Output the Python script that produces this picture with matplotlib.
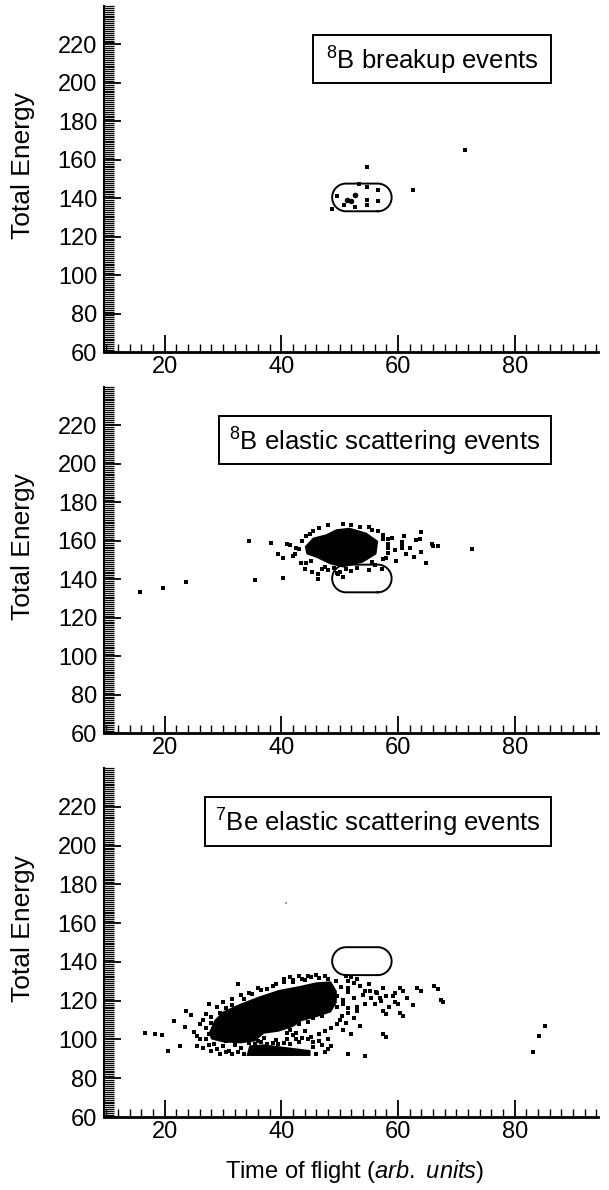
import matplotlib.pyplot as plt
import numpy as np
from matplotlib.ticker import MultipleLocator
from matplotlib.patches import Rectangle

plt.rcParams['font.family'] = ['Liberation Sans', 'DejaVu Sans']
plt.rcParams['mathtext.fontset'] = 'custom'
plt.rcParams['mathtext.rm'] = 'Liberation Sans'
plt.rcParams['mathtext.it'] = 'Liberation Sans:italic'

# Dados
titulos = [r'$^{8}$B breakup events',
           r'$^{8}$B elastic scattering events',
           r'$^{7}$Be elastic scattering events']
caixa_esq = [45.4, 29.3, 26.9]   # borda esquerda da caixa do título (tof)

# janela (gate) de energia x tempo de voo
gate_tof = [48.7, 58.9]
gate_energia = [133.2, 147.6]

# painel 1: 8B breakup
p1_tof = [54.7, 71.4, 62.6, 48.7, 49.5, 50.7, 52.6, 54.7, 54.7, 54.7, 56.6, 56.6, 53.3]
p1_energia = [156.3, 164.9, 144.2, 134.3, 141.2, 136.4, 135.2, 145.9, 139.2, 136.4, 144.2, 138.3, 147.6]
p1_duplo_tof = [51.3, 51.9, 52.6]
p1_duplo_energia = [139.3, 138.4, 141.9]

# painel 2: 8B elástico
p2_tof = [15.7, 19.7, 23.6, 34.5, 35.4, 38.3, 40.3, 40.3, 41.5, 44.3, 64.0, 61.0, 63.0, 65.8,
          64.8, 72.6, 64.0, 62.8, 46.2, 46.2, 45.3, 49.5, 42.3, 43.3, 66.0, 66.8, 63.7, 62.0,
          61.4, 60.6, 60.6, 60.6, 59.7, 58.3, 58.3, 58.3, 58.3, 57.2, 49.7, 50.6, 44.9, 45.1,
          44.3, 43.0, 42.5, 47.0, 48.0, 52.0, 53.5, 55.5, 57.5, 59.0, 59.4, 57.5, 56.0, 53.0,
          52.0, 55.0, 45.5, 46.5, 48.0, 50.5, 55.0, 56.5, 57.5, 58.0, 55.5, 43.5, 42.0, 41.0,
          47.5, 49.0, 50.0, 51.0, 39.5, 44.0]
p2_energia = [133.6, 135.5, 138.4, 159.8, 139.5, 158.6, 140.9, 150.8, 157.9, 162.4, 164.7, 162.4,
              160.2, 158.4, 148.7, 155.8, 154.4, 151.8, 142.6, 140.0, 144.0, 143.5, 153.0, 148.7,
              157.3, 157.3, 160.8, 156.4, 153.0, 159.5, 157.8, 156.0, 149.5, 160.8, 158.5, 156.2,
              153.9, 145.2, 142.6, 141.0, 163.4, 149.5, 148.7, 155.5, 156.5, 145.5, 144.8, 168.0,
              167.2, 165.5, 163.0, 161.5, 155.0, 150.5, 147.5, 146.0, 144.5, 145.0, 165.0, 166.5,
              168.0, 168.5, 167.0, 165.0, 161.0, 151.0, 149.0, 160.0, 152.0, 158.5, 146.5, 146.0,
              144.0, 145.5, 153.0, 145.5]
p2_nucleo_tof = [44.0, 45.4, 47.7, 49.4, 51.7, 54.6, 56.6, 56.3, 54.0, 50.6, 48.3, 46.0, 44.3]
p2_nucleo_energia = [157.0, 161.6, 163.4, 166.0, 166.8, 164.2, 159.9, 153.0, 148.7, 146.1, 147.8, 151.2, 153.0]

# painel 3: 7Be elástico
p3_tof = [16.6, 18.4, 19.6, 20.6, 21.6, 22.6, 23.4, 23.6, 24.5, 25.6, 25.6, 26.5, 27.5, 32.6,
          51.4, 54.4, 57.4, 57.4, 60.4, 60.4, 59.4, 63.3, 66.2, 67.3, 83.1, 84.1, 85.2, 56.4,
          57.4, 55.4, 52.9, 51.4, 54.4, 54.4, 53.0, 51.4, 50.4, 49.4, 50.3, 51.5, 52.5, 53.5,
          55.2, 56.3, 56.9, 58.0, 59.2, 60.9, 64.0, 66.9, 67.7, 60.0, 58.0, 60.9, 58.0, 49.5,
          50.5, 51.5, 49.0, 47.0, 45.5, 44.5, 43.0, 41.5, 42.5, 44.0, 45.0, 46.5, 47.0, 48.5,
          45.5, 43.0, 41.0, 39.0, 37.0, 36.0, 35.5, 27.0, 27.5, 27.0, 28.0, 28.0, 28.5, 29.0,
          30.0, 30.5, 31.0, 32.0, 33.0, 29.5, 30.5, 31.5, 33.5, 35.0, 36.5, 38.5, 40.5, 42.0,
          43.5, 45.0, 46.5, 48.0, 26.0, 25.0,
          30.5, 31.5, 32.5, 33.5, 31.0, 32.0, 33.5, 34.5, 35.5, 36.5, 37.5, 38.5, 39.5, 40.5,
          41.5, 42.5, 43.5, 44.5, 45.5, 46.5, 47.5, 48.5, 49.5, 48.0, 46.0, 47.5, 48.0, 36.5,
          35.0, 42.0, 41.0,
          29.0, 30.0, 31.5, 33.0, 34.5, 36.0, 37.5, 39.0, 40.5, 41.5, 43.0, 44.5, 46.0, 47.5,
          42.0, 44.0,
          26.5, 27.0, 26.0, 27.5, 28.0, 29.5,
          50.0, 51.0, 52.5, 50.5, 52.0, 53.5, 49.5, 50.5, 51.5, 52.5, 53.0, 54.0, 55.0, 56.0,
          57.0, 58.5, 59.5, 61.5, 62.5, 52.0, 51.0]
p3_energia = [103.3, 103.0, 102.5, 94.3, 109.4, 96.9, 106.5, 114.6, 112.5, 101.6, 96.7, 95.5,
              118.4, 128.5, 92.7, 91.5, 114.6, 102.8, 126.3, 113.6, 119.3, 126.8, 127.5, 120.5,
              93.4, 101.6, 106.8, 124.2, 126.3, 121.6, 131.1, 130.3, 125.0, 118.1, 114.6, 113.7,
              112.0, 130.0, 127.0, 124.5, 121.5, 127.5, 125.0, 124.3, 121.5, 122.6, 122.6, 124.9,
              125.0, 125.9, 119.1, 118.3, 113.0, 112.3, 101.2, 116.5, 118.5, 116.0, 121.0, 112.0,
              111.0, 109.0, 108.0, 105.0, 103.5, 104.5, 101.5, 99.0, 97.0, 96.5, 96.0, 98.5,
              100.0, 99.5, 101.0, 99.0, 97.5, 100.0, 103.0, 106.0, 108.5, 111.5, 97.5, 95.0,
              96.5, 99.0, 94.0, 97.0, 95.5, 113.5, 116.0, 118.0, 121.0, 123.5, 125.5, 127.5,
              129.5, 130.5, 131.0, 132.0, 131.5, 131.0, 108.0, 104.0,
              93.5, 92.5, 93.5, 92.5, 101.0, 100.0, 101.5, 98.0, 101.0, 98.5, 97.5, 98.0, 97.5,
              98.0, 97.5, 100.0, 101.0, 100.0, 98.5, 103.0, 104.5, 106.0, 108.0, 100.0, 92.5,
              93.5, 95.0, 104.0, 105.0, 102.5, 103.5,
              117.0, 119.5, 121.0, 123.0, 124.0, 126.5, 126.0, 128.5, 131.0, 132.0, 133.0, 132.5,
              133.5, 133.0, 129.5, 130.5,
              110.0, 113.0, 100.5, 97.0, 94.0, 92.5,
              110.0, 108.5, 111.0, 105.0, 103.0, 107.0, 122.5, 120.5, 126.5, 129.0, 117.0, 123.0,
              128.5, 118.5, 120.0, 117.0, 124.0, 121.5, 118.0, 132.0, 133.0]
p3_nucleo_tof = [27.5, 28.5, 30.0, 33.0, 36.0, 39.5, 43.0, 46.0, 48.5, 49.5, 49.5, 48.5, 46.0,
                 43.5, 42.0, 39.5, 37.0, 35.5, 33.0, 30.0, 28.0]
p3_nucleo_energia = [103.0, 110.0, 114.5, 118.5, 122.0, 125.5, 127.5, 129.5, 130.0, 125.0, 119.0,
                     114.0, 111.5, 109.5, 106.5, 104.0, 103.0, 99.0, 98.0, 98.5, 100.0]
p3_banda_tof = [34.0, 45.0, 45.0, 41.0, 37.0, 34.5]
p3_banda_energia = [91.5, 91.5, 94.5, 96.0, 97.5, 97.0]
p3_fraco_tof = [40.8]
p3_fraco_energia = [170.5]

xlim = (9.6, 94.3)
ylim = (60, 240)

fig = plt.figure(figsize=(6.09, 11.90), dpi=100)
posicoes = [[0.171, 0.7042, 0.811, 0.2908],
            [0.171, 0.3840, 0.811, 0.2908],
            [0.171, 0.0613, 0.811, 0.2933]]
axes = [fig.add_axes(p) for p in posicoes]


def desenha_gate(ax, pos):
    x0, x1 = gate_tof
    y0, y1 = gate_energia
    sx = pos[2] * 609 / (xlim[1] - xlim[0])
    sy = pos[3] * 1190 / (ylim[1] - ylim[0])
    ry = (y1 - y0) / 2
    rx = ry * sy / sx
    yc = (y0 + y1) / 2
    t = np.linspace(-np.pi / 2, np.pi / 2, 40)
    xs = np.concatenate([x1 - rx + rx * np.cos(t), x0 + rx - rx * np.cos(t), [x1 - rx]])
    ys = np.concatenate([yc + ry * np.sin(t), yc - ry * np.sin(t), [y0]])
    ax.plot(xs, ys, color='black', lw=1.4)


for i, ax in enumerate(axes):
    ax.set_xlim(*xlim)
    ax.set_ylim(*ylim)
    ax.spines['top'].set_visible(False)
    ax.spines['right'].set_visible(False)
    ax.spines['left'].set_linewidth(1.5)
    ax.spines['bottom'].set_linewidth(2.0)
    ax.xaxis.set_minor_locator(MultipleLocator(2))
    ax.yaxis.set_minor_locator(MultipleLocator(1))
    ax.set_xticks([20, 40, 60, 80])
    ax.set_yticks([60, 80, 100, 120, 140, 160, 180, 200, 220])
    ax.tick_params(which='major', direction='in', length=12.5, width=1.3, labelsize=17,
                   top=False, right=False)
    ax.tick_params(axis='x', which='major', pad=3)
    ax.tick_params(axis='y', which='major', pad=5)
    ax.tick_params(axis='x', which='minor', direction='in', length=6, width=1.0)
    ax.tick_params(axis='y', which='minor', direction='in', length=7, width=0.9)

    ax.text(-0.165, 0.54, 'Total Energy', transform=ax.transAxes, rotation=90,
            ha='center', va='center', fontsize=19)

    # caixa do título
    ax.add_patch(Rectangle((caixa_esq[i], 200), 86.2 - caixa_esq[i], 25, fill=False,
                           edgecolor='black', lw=1.4))
    ax.text((caixa_esq[i] + 86.2) / 2, 211.5, titulos[i], ha='center', va='center', fontsize=18.5)

    desenha_gate(ax, posicoes[i])

axes[0].scatter(p1_tof, p1_energia, s=5, marker='s', color='black', linewidths=0)
axes[0].scatter(p1_duplo_tof, p1_duplo_energia, s=16, marker='o', color='black', linewidths=0)

axes[1].fill(p2_nucleo_tof, p2_nucleo_energia, color='black', lw=0)
axes[1].scatter(p2_tof, p2_energia, s=5, marker='s', color='black', linewidths=0)

axes[2].fill(p3_nucleo_tof, p3_nucleo_energia, color='black', lw=0)
axes[2].fill(p3_banda_tof, p3_banda_energia, color='black', lw=0)
axes[2].scatter(p3_tof, p3_energia, s=5, marker='s', color='black', linewidths=0)
axes[2].scatter(p3_fraco_tof, p3_fraco_energia, s=2, marker='s', color='0.6', linewidths=0)

axes[2].text(0.508, -0.155, r'Time of flight ($\mathit{arb.\ units}$)', transform=axes[2].transAxes,
             ha='center', va='center', fontsize=17)

plt.savefig('out.png', dpi=100)
